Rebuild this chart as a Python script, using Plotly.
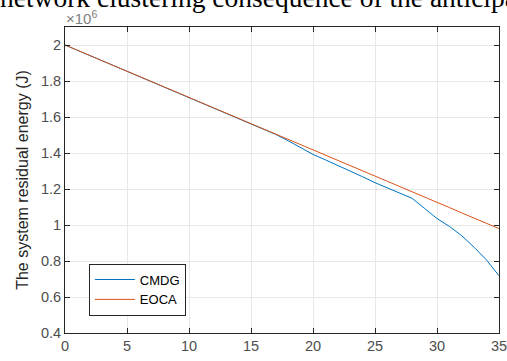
import plotly.graph_objects as go

rounds = list(range(0, 36))
eoca = [2.000, 1.971, 1.942, 1.913, 1.883, 1.854, 1.825, 1.796, 1.767, 1.738,
        1.709, 1.679, 1.650, 1.621, 1.592, 1.563, 1.534, 1.505, 1.475, 1.446,
        1.417, 1.388, 1.359, 1.330, 1.301, 1.271, 1.242, 1.213, 1.184, 1.155,
        1.126, 1.097, 1.067, 1.038, 1.009, 0.980]
cmdg = [2.000, 1.971, 1.942, 1.913, 1.883, 1.854, 1.825, 1.796, 1.767, 1.738,
        1.709, 1.679, 1.650, 1.621, 1.592, 1.563, 1.534, 1.503, 1.468, 1.432,
        1.392, 1.362, 1.332, 1.302, 1.268, 1.235, 1.207, 1.180, 1.148, 1.092,
        1.036, 0.992, 0.940, 0.876, 0.805, 0.718]
x_ticks = [0, 5, 10, 15, 20, 25, 30, 35]
y_ticks = [0.4, 0.6, 0.8, 1.0, 1.2, 1.4, 1.6, 1.8, 2.0]
y_tick_labels = ["0.4", "0.6", "0.8", "1", "1.2", "1.4", "1.6", "1.8", "2"]

fig = go.Figure()
fig.add_trace(go.Scatter(x=rounds, y=cmdg, mode="lines", name="CMDG",
                         line=dict(color="#0072BD", width=1)))
fig.add_trace(go.Scatter(x=rounds, y=eoca, mode="lines", name="EOCA",
                         line=dict(color="#D95319", width=1)))

axis_common = dict(
    showline=True, linecolor="#262626", linewidth=1, mirror="ticks",
    ticks="inside", ticklen=5, tickcolor="#262626",
    showgrid=True, gridcolor="#e8e8e8", gridwidth=1, zeroline=False,
    automargin=False, ticklabeloverflow="allow",
    tickfont=dict(family="Liberation Sans, Arial", size=14.5, color="#4d4d4d"),
)

fig.update_xaxes(range=[0, 35], tickvals=x_ticks, **axis_common)
fig.update_yaxes(range=[0.4, 2.1], tickvals=y_ticks, ticktext=y_tick_labels,
                 title=dict(text="The system residual energy (J)",
                            font=dict(family="Liberation Sans, Arial", size=16, color="#262626"),
                            standoff=8),
                 **axis_common)

fig.add_annotation(xref="paper", yref="paper", x=-0.002, y=1.0, xanchor="left", yanchor="bottom",
                   yshift=-2,
                   text="×10<sup>6</sup>", showarrow=False,
                   font=dict(family="Liberation Sans, Arial", size=15, color="#808080"))
fig.add_annotation(xref="paper", yref="paper", x=-65/434 - 0.004, y=1 + 29/306, xanchor="left", yanchor="middle",
                   text="network clustering consequence of the anticipation", showarrow=False,
                   font=dict(family="Liberation Serif, Times New Roman", size=27.5, color="#000000"))

fig.update_layout(
    width=507, height=361,
    margin=dict(l=65, r=8, t=27, b=28),
    paper_bgcolor="white", plot_bgcolor="white",
    showlegend=True,
    legend=dict(x=0.055, y=0.227, xanchor="left", yanchor="top",
                bgcolor="white", bordercolor="#262626", borderwidth=1,
                font=dict(family="Liberation Sans, Arial", size=13, color="#000000"),
                tracegroupgap=0, itemwidth=40),
)

fig.write_html("out.html", config={"displayModeBar": False},
               post_script="document.body.style.margin='0';document.body.style.padding='0';")
